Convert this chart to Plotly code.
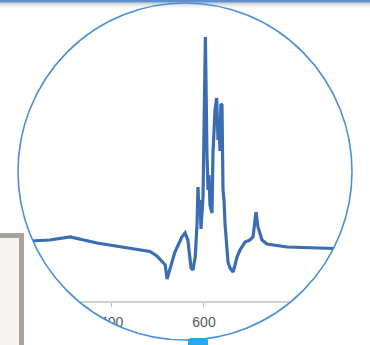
import math
import plotly.graph_objects as go

# ---- data (wavenumber-like x, signal y) ----
x_vals = [200, 223, 266, 310, 368, 440, 483, 498, 509, 516, 520, 526, 537, 552, 559, 565,
          572, 576, 581, 585, 587, 589, 591.4, 593.5, 597.9, 603, 604.4, 606.5, 608.7,
          610.9, 613, 617.4, 619.5, 623.9, 627.5, 630.4, 632.5, 634.7, 636.5, 639, 641.2,
          643.4, 645.5, 649.9, 652, 656.4, 662.9, 667.2, 671.5, 678, 688.9, 699.7, 706.2,
          712.7, 717, 725.7, 736.5, 779.9, 829.7, 888.2, 916, 950]
y_vals = [60, 60, 61, 64, 58, 53, 49.5, 45, 39, 36, 22, 31, 49, 64, 68, 61,
          33, 31, 44, 78, 114, 91, 101, 72, 104, 264, 181, 146, 111,
          126, 96, 88, 148, 191, 203, 161, 175, 150, 197, 196, 111,
          101, 78, 51, 39, 33, 29, 36, 44, 51, 59, 61, 64,
          89, 74, 61, 57, 54, 53, 52.5, 52, 52]
tick_vals = [200, 400, 600, 800]
tick_text = ["200", "400", "600", "800"]

W, H = 370, 345
PLOT_H = 301


def X(px):
    return px / W


def Y(py):
    return (PLOT_H - py) / PLOT_H


fig = go.Figure()
fig.add_trace(go.Scatter(x=x_vals, y=y_vals, mode="lines",
                         line=dict(color="#3b6db4", width=3.2), hoverinfo="skip"))

# circular magnifier mask (white outside the lens)
cx, cy, rx, ry = 185, 171.5, 167, 168.5
pts = []
for i in range(181):
    a = 2 * math.pi * i / 180
    pts.append((X(cx + rx * math.cos(a)), Y(cy + ry * math.sin(a))))
circle_path = "M" + " L".join(f"{px:.5f},{py:.5f}" for px, py in pts) + " Z"
outer = (f"M{X(-20):.5f},{Y(-20):.5f} L{X(W+20):.5f},{Y(-20):.5f} "
         f"L{X(W+20):.5f},{Y(H+20):.5f} L{X(-20):.5f},{Y(H+20):.5f} Z ")
shapes = [
    dict(type="path", xref="paper", yref="paper", path=outer + circle_path,
         fillcolor="white", fillrule="evenodd", line=dict(width=0), layer="above"),
    # grey box on left
    dict(type="rect", xref="paper", yref="paper",
         x0=X(-10), x1=X(21.5), y0=Y(360), y1=Y(235.5),
         fillcolor="#f6f5f4", line=dict(color="#aaa39c", width=5), layer="above"),
]
# top bar with shadow
greys = ["#b4b8be", "#c8cacd", "#dadbdc", "#e8e8e8", "#f3f3f3"]
for i, g in enumerate(greys):
    shapes.append(dict(type="rect", xref="paper", yref="paper",
                       x0=0, x1=1, y0=Y(3.5 + i), y1=Y(2.5 + i),
                       fillcolor=g, line=dict(width=0), layer="above"))
shapes.append(dict(type="rect", xref="paper", yref="paper", x0=0, x1=1,
                   y0=Y(2.5), y1=Y(-1), fillcolor="#5d90cd", line=dict(width=0), layer="above"))
# lens outline
shapes.append(dict(type="circle", xref="paper", yref="paper",
                   x0=X(cx - rx), x1=X(cx + rx), y0=Y(cy + ry), y1=Y(cy - ry),
                   line=dict(color="#4a90d9", width=1.6), layer="above"))
# cyan pill at bottom
pl, pr, pt, pb = 188, 208, 338, 350
pill = (f"M{X(pl):.5f},{Y(pb):.5f} L{X(pl):.5f},{Y(pt+3):.5f} "
        f"Q{X(pl):.5f},{Y(pt):.5f} {X(pl+3):.5f},{Y(pt):.5f} "
        f"L{X(pr-3):.5f},{Y(pt):.5f} Q{X(pr):.5f},{Y(pt):.5f} {X(pr):.5f},{Y(pt+3):.5f} "
        f"L{X(pr):.5f},{Y(pb):.5f} Z")
shapes.append(dict(type="path", xref="paper", yref="paper", path=pill,
                   fillcolor="#1aaef0", line=dict(width=0), layer="above"))

fig.update_layout(
    width=W, height=H,
    margin=dict(l=0, r=0, t=0, b=H - PLOT_H, pad=0),
    paper_bgcolor="white", plot_bgcolor="white",
    showlegend=False,
    shapes=shapes,
    xaxis=dict(range=[158, 959.7], tickvals=tick_vals, ticktext=tick_text,
               ticks="outside", ticklen=4, tickcolor="#bdbdbd", tickwidth=1,
               showline=True, linecolor="#d0d0d0", linewidth=1.5,
               showgrid=False, zeroline=False, ticklabelstandoff=3,
               tickfont=dict(family="Liberation Sans, Arial", size=14, color="#595959")),
    yaxis=dict(range=[0, PLOT_H], visible=False, showgrid=False, zeroline=False),
)

fig.write_html("out.html", config={"displayModeBar": False},
               post_script="document.body.style.margin='0';document.body.style.padding='0';"
                           "document.body.style.overflow='hidden';")
